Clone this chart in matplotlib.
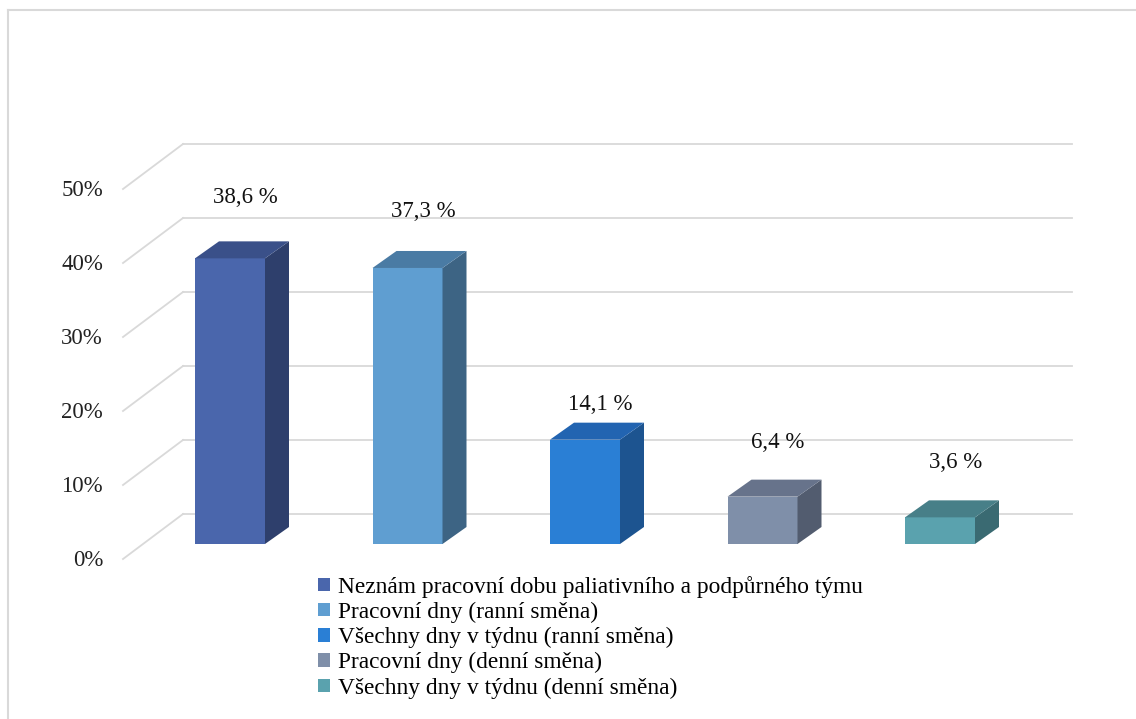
import matplotlib
matplotlib.use("Agg")
import matplotlib.pyplot as plt
from matplotlib.patches import Polygon, Patch
import numpy as np

# data
categories = ["Neznám pracovní dobu paliativního a podpůrného týmu",
              "Pracovní dny (ranní směna)",
              "Všechny dny v týdnu (ranní směna)",
              "Pracovní dny (denní směna)",
              "Všechny dny v týdnu (denní směna)"]
values = [38.6, 37.3, 14.1, 6.4, 3.6]
value_labels = ["38,6 %", "37,3 %", "14,1 %", "6,4 %", "3,6 %"]
ticks = [0, 10, 20, 30, 40, 50]
tick_labels = ["0%", "10%", "20%", "30%", "40%", "50%"]

# colours: front, side, top
front = ["#4a66ac", "#5f9ed1", "#2a7fd5", "#7f8fa9", "#5aa2ae"]
side = ["#2e3f6c", "#3d6484", "#1d5490", "#525c6f", "#3a6a72"]
top = ["#3a5089", "#4a7ba4", "#2264b1", "#67738b", "#477f88"]
label_lift = [5.9, 5.4, 2.4, 5.0, 5.1]   # label distance above bar top (Excel placement)

plt.rcParams['font.family'] = ['Liberation Serif', 'DejaVu Serif']
FS = 16.5

fig = plt.figure(figsize=(11.36, 7.19), dpi=100)
ax = fig.add_axes([0, 0, 1, 1])
# pixel mapping: x_px = 230 + 177.5*x, y_px = 544 - 7.4*v
ax.set_xlim(-230 / 177.5, (1136 - 230) / 177.5)
ax.set_ylim((544 - 719) / 7.4, 544 / 7.4)
ax.axis("off")

# perspective offsets (data units)
bw = 70 / 177.5
ddx, ddy = 24 / 177.5, 17 / 7.4
wall_dy = 30 / 7.4
wall_x0, wall_x1 = (183 - 230) / 177.5, (1072 - 230) / 177.5
floor_dx, floor_dy = -60 / 177.5, -45 / 7.4

# gridlines (back wall + side wall diagonal)
for t, lab in zip(ticks, tick_labels):
    yb = t + wall_dy
    ax.plot([wall_x0, wall_x1], [yb, yb], color="#d9d9d9", lw=1.3, zorder=1)
    ax.plot([wall_x0 + floor_dx, wall_x0], [yb + floor_dy, yb], color="#d9d9d9", lw=1.3, zorder=1)
    ax.text(wall_x0 + floor_dx - 20 / 177.5, yb + floor_dy - 2 / 7.4, lab,
            ha="right", va="center", fontsize=FS, color="#222222")

# bars
x = np.arange(len(values))
for i, v in enumerate(values):
    x0 = x[i] - bw / 2
    x1 = x[i] + bw / 2
    ax.add_patch(Polygon([(x0, 0), (x1, 0), (x1, v), (x0, v)], closed=True,
                         facecolor=front[i], edgecolor="none", zorder=3))
    ax.add_patch(Polygon([(x1, 0), (x1 + ddx, ddy), (x1 + ddx, v + ddy), (x1, v)], closed=True,
                         facecolor=side[i], edgecolor="none", zorder=3))
    ax.add_patch(Polygon([(x0, v), (x1, v), (x1 + ddx, v + ddy), (x0 + ddx, v + ddy)], closed=True,
                         facecolor=top[i], edgecolor="none", zorder=3))
    ax.text(x[i] + ddx / 2 + 0.02, v + ddy + label_lift[i], value_labels[i],
            ha="center", va="center", fontsize=FS, color="#111111", zorder=4)

# chart border (top and left only visible)
ax.plot([8 / 177.5 - 230 / 177.5] * 2, [(544 - 10) / 7.4, (544 - 719) / 7.4],
        color="#d9d9d9", lw=1.5, zorder=0)
ax.plot([8 / 177.5 - 230 / 177.5, (1136 - 230) / 177.5], [(544 - 10) / 7.4] * 2,
        color="#d9d9d9", lw=1.5, zorder=0)

handles = [Patch(facecolor=c, edgecolor="none") for c in front]
fig.legend(handles, categories, loc="upper left", bbox_to_anchor=(318 / 1136, 1 - 576 / 719),
           frameon=False, fontsize=16.8, handlelength=0.5, handleheight=0.5,
           handletextpad=0.35, labelspacing=0.17, borderpad=0, borderaxespad=0)

fig.savefig("out.png", dpi=100)
